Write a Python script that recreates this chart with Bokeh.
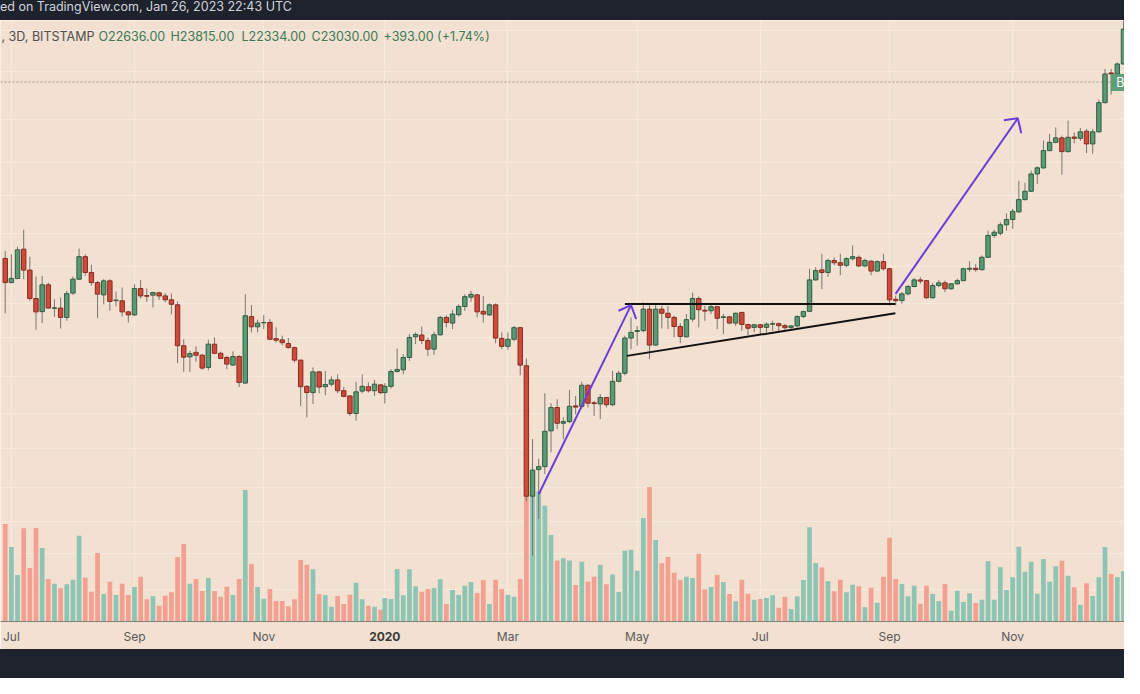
from datetime import datetime, timedelta
from bokeh.plotting import figure
from bokeh.models import (Range1d, LinearScale, FixedTicker, Grid, Span, Label,
                          BoxAnnotation, Div, ColumnDataSource, DatetimeAxis)
from bokeh.layouts import column
from bokeh.embed import file_html
from bokeh.resources import INLINE

# ---------------- data (BTCUSD, 3D, Bitstamp) ----------------
# TradingView 3D bars are re-anchored on Jan 1 of every year
bar_dates = ([datetime(2019, 6, 30) + timedelta(days=3 * k) for k in range(62)] +
             [datetime(2020, 1, 1) + timedelta(days=3 * k) for k in range(121)])

opens = [11850, 10820, 10990, 12270, 11340, 10190, 9700, 10730, 9820, 9830,
         9490, 10400, 10960, 11930, 11240, 10820, 10330, 10890, 10110, 10100,
         9690, 9580, 10580, 10300, 10320, 10410, 10290, 10140, 9950, 8530,
         8180, 8320, 8230, 7860, 8580, 8290, 8160, 7930, 8190, 7410,
         9520, 9160, 9300, 9310, 8760, 8720, 8600, 8470, 8080, 7320,
         7150, 7730, 7310, 7380, 7500, 7200, 7060, 6610, 7190, 7310,
         7200, 7360, 7150, 7320, 7740, 7790, 8160, 8820, 8880, 8700,
         8420, 8890, 9490, 9290, 9590, 9890, 10240, 10330, 9710, 9580,
         9950, 8770, 8510, 8740, 9130, 7910, 4840, 5350, 5410, 6190,
         6760, 6370, 6410, 6800, 6790, 7350, 6880, 6850, 7020, 6830,
         7460, 7690, 8780, 9000, 9030, 9790, 8550, 9790, 9640, 9490,
         9170, 8820, 9430, 10190, 9750, 9730, 9880, 9490, 9510, 9290,
         9670, 9240, 9140, 9230, 9140, 9250, 9270, 9200, 9140, 9190,
         9520, 9710, 10930, 11350, 11240, 11760, 11660, 11550, 11840, 11900,
         11520, 11730, 11300, 11710, 11400, 10160, 10110, 10370, 10660, 10930,
         10900, 10220, 10700, 10810, 10570, 10770, 10900, 11380, 11420, 11360,
         11900, 12920, 13030, 13450, 13720, 14120, 14790, 15260, 16290, 16670,
         17790, 18350, 18660, 17720, 18720, 18630, 19140, 18240, 19090, 21310,
         23830, 23740, 24650]
highs = [12190, 12040, 12390, 13200, 11930, 11070, 11100, 10820, 10160, 10230,
         10490, 11070, 12300, 12040, 11570, 10890, 10960, 10960, 10460, 10620,
         9730, 10750, 10930, 10580, 10450, 10450, 10400, 10380, 10080, 8740,
         8370, 8510, 8270, 8720, 8800, 8340, 8210, 8350, 8230, 10360,
         9940, 9410, 9570, 9430, 9140, 8860, 8780, 8500, 8080, 7350,
         7860, 7760, 7760, 7600, 7660, 7310, 7080, 7450, 7660, 7430,
         7500, 7380, 7410, 7810, 8440, 8260, 8910, 8970, 9170, 8800,
         8990, 9550, 9570, 9770, 9970, 10360, 10490, 10360, 10290, 10000,
         10000, 8970, 8970, 9190, 9160, 8130, 6000, 5570, 7130, 6870,
         6970, 6510, 7220, 7060, 7450, 7380, 6930, 7110, 7020, 7760,
         7760, 8860, 9490, 9190, 10040, 9940, 9940, 9910, 9910, 9550,
         9290, 9610, 10420, 10270, 9910, 9940, 9910, 9610, 9550, 9670,
         9690, 9260, 9260, 9260, 9310, 9370, 9310, 9260, 9220, 9570,
         9730, 11400, 11470, 12060, 11840, 11900, 12060, 11900, 12440, 11980,
         11840, 11760, 11760, 12060, 11440, 10310, 10440, 10730, 11010, 11040,
         10930, 10800, 10930, 10900, 10800, 10980, 11440, 11730, 11610, 11980,
         13160, 13200, 13580, 14050, 14280, 15870, 15770, 16500, 16770, 18470,
         18940, 19410, 18820, 19920, 19040, 19370, 19290, 19290, 21540, 24190,
         24190, 24800, 29200]
lows = [9640, 10790, 10960, 10960, 10100, 9060, 9290, 9810, 9510, 9100,
        9370, 10330, 10940, 11100, 10690, 9460, 9970, 9730, 9890, 9520,
        9310, 9550, 10190, 10060, 9850, 10140, 10040, 9600, 7990, 7730,
        7730, 8030, 7790, 7780, 8260, 8110, 7810, 7910, 7300, 7390,
        8970, 8970, 9080, 8720, 8630, 8540, 8440, 8010, 6790, 6510,
        6850, 7130, 7080, 7320, 7130, 7020, 6550, 6430, 7130, 7150,
        7060, 7110, 6860, 7260, 7710, 7660, 8060, 8580, 8580, 8210,
        8240, 8860, 9140, 9080, 9520, 9730, 10060, 9490, 9310, 9550,
        8610, 8420, 8400, 8670, 7630, 4750, 3870, 4440, 5260, 5710,
        6230, 6000, 6370, 6590, 6730, 6760, 6550, 6470, 6760, 6790,
        7430, 7630, 8420, 8530, 8970, 8110, 8530, 9100, 9080, 8800,
        8610, 8800, 9340, 9140, 9370, 9610, 9080, 8910, 9250, 9190,
        9020, 8880, 8970, 8910, 8970, 9020, 9020, 9020, 9060, 9140,
        9460, 9680, 10900, 10560, 11060, 11550, 11120, 11470, 11760, 11470,
        11470, 11120, 11250, 11320, 9920, 9930, 9990, 10310, 10630, 10770,
        10180, 10180, 10630, 10440, 10540, 10740, 10880, 11270, 11270, 11320,
        11870, 12810, 12920, 13160, 13250, 14090, 14740, 15230, 15690, 16600,
        17740, 18280, 16250, 17650, 18280, 18450, 17620, 17580, 19040, 21250,
        21960, 23680, 24600]
closes = [10820, 10990, 12240, 11340, 10190, 9690, 10730, 9830, 9840, 9490,
          10380, 10960, 11930, 11240, 10820, 10360, 10890, 10080, 10130, 9690,
          9580, 10580, 10290, 10280, 10420, 10290, 10140, 9970, 8530, 8170,
          8280, 8230, 7840, 8580, 8290, 8130, 7960, 8190, 7430, 9550,
          9160, 9290, 9310, 8740, 8710, 8630, 8470, 8080, 7310, 7150,
          7730, 7300, 7370, 7500, 7200, 7050, 6610, 7170, 7320, 7200,
          7380, 7150, 7320, 7740, 7800, 8160, 8800, 8900, 8700, 8420,
          8890, 9490, 9310, 9610, 9890, 10260, 10350, 9690, 9610, 9950,
          8780, 8510, 8740, 9130, 7930, 4840, 5340, 5410, 6180, 6760,
          6370, 6410, 6790, 6770, 7350, 6870, 6860, 7020, 6830, 7460,
          7690, 8780, 8970, 9030, 9790, 8550, 9790, 9640, 9490, 9170,
          8830, 9410, 10190, 9770, 9720, 9880, 9460, 9510, 9290, 9640,
          9240, 9110, 9230, 9140, 9250, 9270, 9200, 9130, 9190, 9520,
          9700, 10930, 11320, 11240, 11760, 11660, 11550, 11840, 11930, 11520,
          11760, 11300, 11710, 11400, 10140, 10110, 10370, 10660, 10930, 10880,
          10220, 10700, 10810, 10570, 10770, 10900, 11400, 11420, 11360, 11900,
          12920, 13080, 13450, 13720, 14150, 14790, 15260, 16290, 16670, 17790,
          18350, 18660, 17720, 18700, 18630, 19090, 18240, 19090, 21310, 23740,
          23740, 24650, 28110]
volumes_k = [48.8, 37.3, 23.3, 46.6, 26.8, 46.8, 36.8, 21.3, 18.9, 16.6,
             18.6, 20.9, 42.9, 21.9, 14.9, 34.3, 13.8, 19.9, 13.3, 18.9,
             13.3, 17.3, 22.4, 11.1, 12.6, 7.9, 12.9, 14.6, 32.3, 38.8,
             18.9, 21.3, 15.3, 21.8, 15.3, 12.4, 17.4, 13.3, 21.3, 65.8,
             28.8, 17.3, 11.4, 16.3, 10.3, 10.3, 7.6, 11.1, 30.8, 28.4,
             26.1, 13.8, 13.3, 7.4, 12.8, 8.8, 13.4, 19.4, 11.1, 7.9,
             7.4, 5.9, 11.8, 11.3, 26.3, 13.1, 26.1, 17.6, 14.9, 16.3,
             16.8, 21.1, 8.8, 15.8, 13.3, 17.9, 19.8, 14.3, 20.8, 8.8,
             20.9, 16.3, 13.4, 12.4, 21.3, 66.0, 64.0, 65.0, 57.9, 43.2,
             30.5, 31.6, 30.5, 18.3, 29.9, 20.0, 22.4, 28.4, 18.6, 23.5,
             14.8, 35.4, 35.9, 25.4, 51.8, 67.3, 40.8, 29.1, 32.3, 24.4,
             20.9, 22.4, 21.8, 33.9, 16.1, 17.3, 23.3, 19.8, 13.8, 10.1,
             20.9, 13.9, 10.9, 11.3, 11.8, 13.1, 6.9, 12.4, 6.3, 12.6,
             20.8, 47.1, 29.3, 27.0, 20.1, 15.1, 20.9, 14.6, 18.4, 17.6,
             7.1, 16.9, 9.4, 22.4, 41.9, 21.3, 18.8, 12.6, 17.9, 8.9,
             17.9, 13.8, 10.3, 18.8, 5.4, 15.4, 9.8, 14.1, 9.3, 10.9,
             30.1, 10.9, 27.1, 15.8, 22.1, 37.4, 24.9, 29.9, 13.9, 31.3,
             19.9, 27.6, 30.4, 22.9, 17.1, 8.4, 19.1, 12.8, 22.1, 37.3,
             23.8, 22.3, 25.3]

tick_dates = [datetime(2019, 7, 3), datetime(2019, 9, 1), datetime(2019, 11, 3),
              datetime(2020, 1, 1), datetime(2020, 3, 1), datetime(2020, 5, 3),
              datetime(2020, 7, 2), datetime(2020, 9, 3), datetime(2020, 11, 2)]
tick_labels = ["Jul", "Sep", "Nov", "2020", "Mar", "May", "Jul", "Sep", "Nov"]
grid_prices = [28000, 24000, 20000, 17000, 15000, 13000, 11500, 10000,
               8800, 7600, 6600, 5800, 5000, 4400, 3900, 3400]

legend_prefix = ", 3D, BITSTAMP"
legend_items = ["O22636.00", "H23815.00", "L22334.00", "C23030.00", "+393.00 (+1.74%)"]
last_price = 23030
header_text = "ed on TradingView.com, Jan 26, 2023 22:43 UTC"

# drawings on the chart (date, price)
resistance_dates = [datetime(2020, 4, 27), datetime(2020, 9, 5, 20)]
resistance_prices = [9980, 9980]
support_dates = [datetime(2020, 4, 28), datetime(2020, 9, 5, 20)]
support_prices = [8210, 9640]
arrow1_dates = [datetime(2020, 3, 16, 2), datetime(2020, 4, 30)]
arrow1_prices = [4880, 9940]
arrow1_head_dates = [datetime(2020, 4, 23, 22), datetime(2020, 4, 30), datetime(2020, 5, 2, 12)]
arrow1_head_prices = [9730, 9940, 9430]
arrow2_dates = [datetime(2020, 9, 5, 22), datetime(2020, 11, 4, 12)]
arrow2_prices = [10370, 20090]
arrow2_head_dates = [datetime(2020, 10, 28, 17), datetime(2020, 11, 4, 12), datetime(2020, 11, 6, 5)]
arrow2_head_prices = [19940, 20090, 18990]

# ---------------- styling ----------------
BG = "#f2e0d1"
GRID = "#f6e9df"
UP_FILL, UP_LINE = "#5a9a74", "#2f5e43"
DN_FILL, DN_LINE = "#d04a39", "#862c20"
WICK = "#7a7672"
VOL_UP, VOL_DN = "#8dc5b5", "#f3a091"
PURPLE = "#6a3fd8"
DARK = "#1e222d"
FONT = "Inter"
DAY_MS = 86400000.0
Y_START, Y_END = 3019, 29035


def ms(d):
    return (d - datetime(1970, 1, 1)).total_seconds() * 1000.0


x_start = datetime(2020, 1, 1) - timedelta(days=187.3)
x_end = datetime(2020, 1, 1) + timedelta(days=360.5)

inc = [c >= o for o, c in zip(opens, closes)]
src = ColumnDataSource(dict(
    x=[ms(d) for d in bar_dates],
    open=opens, high=highs, low=lows, close=closes,
    body_top=[max(o, c) for o, c in zip(opens, closes)],
    body_bot=[min(o, c) for o, c in zip(opens, closes)],
    body_fill=[UP_FILL if u else DN_FILL for u in inc],
    body_line=[UP_LINE if u else DN_LINE for u in inc],
    volume=volumes_k,
    vol_color=[VOL_UP if u else VOL_DN for u in inc],
))

p = figure(width=1124, height=629, x_axis_type="datetime", y_axis_type="log",
           y_axis_location=None,
           x_range=Range1d(ms(x_start), ms(x_end)),
           y_range=Range1d(Y_START, Y_END),
           output_backend="svg", toolbar_location=None,
           min_border_left=0, min_border_right=0, min_border_top=0,
           min_border_bottom=28,
           background_fill_color=BG, border_fill_color=BG,
           outline_line_color=None)

# volume pane overlay
p.extra_y_ranges = {"vol": Range1d(0, 300.5)}
p.extra_y_scales = {"vol": LinearScale()}

# grids
xt = FixedTicker(ticks=[ms(d) for d in tick_dates])
p.xaxis.ticker = xt
p.xgrid.ticker = xt
p.xgrid.grid_line_color = GRID
p.xgrid.grid_line_width = 1
p.ygrid.visible = False
p.add_layout(Grid(dimension=1, ticker=FixedTicker(ticks=grid_prices),
                  grid_line_color=GRID, grid_line_width=1))

# x axis
p.xaxis.major_tick_line_color = None
p.xaxis.minor_tick_line_color = None
p.xaxis.major_tick_out = 0
p.xaxis.major_tick_in = 0
p.xaxis.axis_line_color = "#85807b"
p.xaxis.major_label_standoff = 7
p.xaxis.major_label_text_font = FONT
p.xaxis.major_label_text_font_size = "12px"
p.xaxis.major_label_text_color = "#5a5a5a"

tick_ms = [ms(d) for d in tick_dates]
year_bold = True
try:
    # second axis, stacked below, pulled back up so that the bold year
    # label sits on the same row as the month labels
    year_axis = DatetimeAxis(
        ticker=FixedTicker(ticks=[m for m, lab in zip(tick_ms, tick_labels) if lab.isdigit()]),
        axis_line_color=None, major_tick_line_color=None, minor_tick_line_color=None,
        major_tick_out=0, major_tick_in=0,
        major_label_text_font=FONT, major_label_text_font_size="12px",
        major_label_text_font_style="bold", major_label_text_color="#3a3a3a")
    year_axis.major_label_overrides = {m: lab for m, lab in zip(tick_ms, tick_labels)
                                       if lab.isdigit()}
    year_axis.major_label_standoff = -15
except Exception:
    year_bold = False

if year_bold:
    p.add_layout(year_axis, "below")
    p.xaxis[0].major_label_overrides = {m: ("" if lab.isdigit() else lab)
                                        for m, lab in zip(tick_ms, tick_labels)}
else:
    p.xaxis[0].major_label_overrides = {m: lab for m, lab in zip(tick_ms, tick_labels)}

# volume bars
p.vbar(x="x", top="volume", bottom=0, width=2.3 * DAY_MS, fill_color="vol_color",
       line_color=None, y_range_name="vol", source=src)

# last price dotted line
p.add_layout(Span(location=last_price, dimension="width", line_color="#9a9590",
                  line_dash="2 2", line_width=1, level="underlay"))

# candles
p.segment(x0="x", y0="low", x1="x", y1="high", line_color=WICK, line_width=1, source=src)
p.vbar(x="x", top="body_top", bottom="body_bot", width=2.15 * DAY_MS,
       fill_color="body_fill", line_color="body_line", line_width=1, source=src)

# drawings
p.line([ms(d) for d in resistance_dates], resistance_prices, line_color="#111111", line_width=2)
p.line([ms(d) for d in support_dates], support_prices, line_color="#111111", line_width=2)
for dd, pp in [(arrow1_dates, arrow1_prices), (arrow1_head_dates, arrow1_head_prices),
               (arrow2_dates, arrow2_prices), (arrow2_head_dates, arrow2_head_prices)]:
    p.line([ms(d) for d in dd], pp, line_color=PURPLE, line_width=2)

# price scale label (cut at the right edge)
p.add_layout(BoxAnnotation(left=ms(datetime(2020, 12, 19, 19)), right=ms(x_end),
                           bottom=22270, top=23740, fill_color="#5e9e78",
                           fill_alpha=1.0, line_color=None))
p.add_layout(Label(x=ms(datetime(2020, 12, 22, 12)), y=last_price, text="B",
                   text_color="white", text_font=FONT, text_font_size="12.5px",
                   text_baseline="middle", text_align="left"))

# legend row
legend_y = 27340
p.add_layout(Label(x=ms(x_start), y=legend_y, x_offset=1, text=legend_prefix,
                   text_color="#4f4f4f", text_font=FONT, text_font_size="12.5px",
                   text_baseline="middle"))
for off, txt in zip([98, 170, 241, 311, 383], legend_items):
    p.add_layout(Label(x=ms(x_start), y=legend_y, x_offset=off, text=txt,
                       text_color="#3c7a56", text_font=FONT, text_font_size="12.5px",
                       text_baseline="middle"))

top_bar = Div(text=('<div style="background:%s;color:#d1d4dc;font-family:Inter;'
                    'font-size:12.5px;line-height:14px;height:20px;width:1124px;'
                    'white-space:nowrap;overflow:hidden;margin:0;padding:0;">%s</div>'
                    % (DARK, header_text)),
              width=1124, height=20,
              styles={"background-color": DARK, "margin": "0", "padding": "0"})
bottom_bar = Div(text='<div style="background:%s;height:29px;width:1124px;"></div>' % DARK,
                 width=1124, height=29,
                 styles={"background-color": DARK, "margin": "0", "padding": "0"})

layout = column(top_bar, p, bottom_bar, spacing=0)
open("out.html", "w").write(file_html(layout, INLINE))
